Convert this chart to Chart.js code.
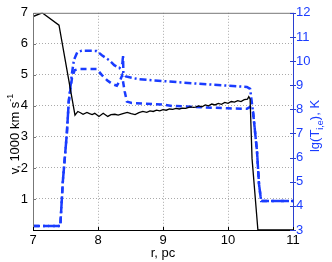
<!DOCTYPE html>
<html>
<head>
<meta charset="utf-8">
<script src="https://cdn.jsdelivr.net/npm/chart.js@4"></script>
<style>
  html, body { margin: 0; padding: 0; background: #fff; }
  #wrap { width: 332px; height: 262px; }
</style>
</head>
<body>
<div id="wrap"><canvas id="chart" width="332" height="262"></canvas></div>
<script>
// velocity (left axis), r in pc
const rVel = [7.0, 7.14, 7.4, 7.646, 7.69, 7.73, 7.77, 7.83, 7.87, 7.91, 7.95, 8.015, 8.08, 8.15, 8.2, 8.26, 8.31, 8.37, 8.45, 8.51, 8.57, 8.63, 8.69, 8.75, 8.8, 8.85, 8.9, 8.95, 9.0, 9.05, 9.1, 9.15, 9.2, 9.25, 9.3, 9.35, 9.42, 9.47, 9.5, 9.55, 9.6, 9.65, 9.7, 9.75, 9.8, 9.85, 9.9, 9.95, 10.0, 10.05, 10.1, 10.15, 10.2, 10.25, 10.3, 10.32, 10.34, 10.37, 10.46, 11.0];
const vel = [6.88, 7.0, 6.6, 3.7, 3.82, 3.78, 3.73, 3.79, 3.75, 3.72, 3.76, 3.66, 3.76, 3.66, 3.72, 3.73, 3.7, 3.74, 3.79, 3.75, 3.72, 3.78, 3.82, 3.79, 3.84, 3.82, 3.86, 3.84, 3.88, 3.86, 3.9, 3.89, 3.92, 3.9, 3.93, 3.92, 3.97, 3.95, 3.96, 4.0, 3.97, 4.03, 4.0, 4.06, 4.03, 4.08, 4.05, 4.11, 4.08, 4.14, 4.12, 4.17, 4.14, 4.2, 4.22, 4.3, 4.22, 2.3, 0.0, 0.0];

// lg T, dash-dot curve (right axis)
const rTdd = [7.0, 7.42, 7.46, 7.52, 7.55, 7.6, 7.63, 7.68, 7.75, 7.98, 8.06, 8.17, 8.25, 8.33, 8.375, 8.385, 8.39, 8.43, 8.6, 9.0, 9.5, 10.0, 10.29, 10.34, 10.385, 10.446, 10.477, 10.51, 11.0];
const lgTdd = [3.17, 3.17, 5.05, 6.97, 8.32, 9.5, 10.05, 10.36, 10.43, 10.42, 10.24, 10.04, 9.83, 9.71, 9.9, 10.24, 9.55, 9.36, 9.26, 9.17, 9.07, 8.98, 8.93, 8.85, 7.9, 6.27, 4.9, 4.2, 4.2];

// lg T, dashed curve (right axis)
const rTd = [7.0, 7.42, 7.46, 7.52, 7.55, 7.6, 7.64, 7.7, 7.98, 8.06, 8.14, 8.22, 8.29, 8.34, 8.37, 8.41, 8.445, 8.52, 8.98, 9.14, 9.5, 10.0, 10.29, 10.34, 10.385, 10.446, 10.477, 10.51, 11.0];
const lgTd = [3.17, 3.17, 5.05, 6.97, 8.32, 9.3, 9.62, 9.67, 9.67, 9.42, 9.2, 9.05, 8.98, 9.2, 9.4, 8.75, 8.32, 8.26, 8.2, 8.14, 8.1, 8.04, 8.02, 8.1, 7.9, 6.27, 4.9, 4.2, 4.2];

const xTicks = [7, 8, 9, 10, 11];
const velTicks = [1, 2, 3, 4, 5, 6, 7];
const lgTTicks = [3, 4, 5, 6, 7, 8, 9, 10, 11, 12];

const FONT = 'Liberation Sans, Arial, sans-serif';
const BLUE = '#1a3cff';
const AXBLUE = '#2a3fd0';

const toPts = (xs, ys) => xs.map((x, i) => ({ x: x, y: ys[i] }));

// frame, inward ticks and axis titles (with sub/superscripts)
const framePlugin = {
    id: 'frame',
    afterDraw(chart) {
        const ctx = chart.ctx;
        const a = chart.chartArea;
        const xs = chart.scales.x, yl = chart.scales.y, yr = chart.scales.y2;
        ctx.save();
        ctx.lineWidth = 1;
        // top and left
        ctx.strokeStyle = '#777';
        ctx.beginPath();
        ctx.moveTo(a.left + 0.5, a.bottom);
        ctx.lineTo(a.left + 0.5, a.top + 0.5);
        ctx.lineTo(a.right, a.top + 0.5);
        ctx.stroke();
        // bottom
        ctx.strokeStyle = '#000';
        ctx.beginPath();
        ctx.moveTo(a.left, a.bottom + 0.5);
        ctx.lineTo(a.right, a.bottom + 0.5);
        ctx.stroke();
        // right
        ctx.strokeStyle = AXBLUE;
        ctx.beginPath();
        ctx.moveTo(a.right + 0.5, a.top);
        ctx.lineTo(a.right + 0.5, a.bottom + 1);
        ctx.stroke();

        // inward ticks
        ctx.strokeStyle = '#777';
        velTicks.forEach(v => {
            const y = Math.round(yl.getPixelForValue(v)) + 0.5;
            ctx.beginPath(); ctx.moveTo(a.left, y); ctx.lineTo(a.left + 3, y); ctx.stroke();
        });
        ctx.strokeStyle = '#000';
        xTicks.forEach(v => {
            const x = Math.round(xs.getPixelForValue(v)) + 0.5;
            ctx.beginPath(); ctx.moveTo(x, a.bottom); ctx.lineTo(x, a.bottom - 3); ctx.stroke();
        });
        ctx.strokeStyle = AXBLUE;
        lgTTicks.forEach(v => {
            const y = Math.round(yr.getPixelForValue(v)) + 0.5;
            ctx.beginPath(); ctx.moveTo(a.right - 3, y); ctx.lineTo(a.right + 3, y); ctx.stroke();
        });

        // x title
        ctx.fillStyle = '#000';
        ctx.font = '13px ' + FONT;
        ctx.textAlign = 'center';
        ctx.textBaseline = 'alphabetic';
        ctx.fillText('r, pc', (a.left + a.right) / 2, 257);

        // rotated titles built from pieces
        const drawRot = (cx, cy, parts, color) => {
            ctx.save();
            ctx.translate(cx, cy);
            ctx.rotate(-Math.PI / 2);
            ctx.fillStyle = color;
            ctx.textAlign = 'left';
            let w = 0;
            parts.forEach(p => {
                ctx.font = (p.small ? '9px ' : '13px ') + FONT;
                w += ctx.measureText(p.t).width;
            });
            let x = -w / 2;
            parts.forEach(p => {
                ctx.font = (p.small ? '9px ' : '13px ') + FONT;
                ctx.fillText(p.t, x, 5 + (p.dy || 0));
                x += ctx.measureText(p.t).width;
            });
            ctx.restore();
        };
        drawRot(14, 134, [
            { t: 'v, 1000 km s' },
            { t: '-1', small: true, dy: -6 }
        ], '#000');
        drawRot(314, 126, [
            { t: 'lg(T' },
            { t: 'i,e', small: true, dy: 4 },
            { t: '), K' }
        ], BLUE);
        ctx.restore();
    }
};

const ctx = document.getElementById('chart').getContext('2d');
window.shockChart = new Chart(ctx, {
    type: 'line',
    data: {
        datasets: [
            {
                label: 'v',
                data: toPts(rVel, vel),
                yAxisID: 'y',
                borderColor: '#000',
                borderWidth: 1.3,
                pointRadius: 0,
                tension: 0
            },
            {
                label: 'lg T dash-dot',
                data: toPts(rTdd, lgTdd),
                yAxisID: 'y2',
                borderColor: BLUE,
                borderWidth: 2.5,
                borderDash: [7, 3, 2, 3],
                pointRadius: 0,
                tension: 0
            },
            {
                label: 'lg T dashed',
                data: toPts(rTd, lgTd),
                yAxisID: 'y2',
                borderColor: BLUE,
                borderWidth: 2.5,
                borderDash: [6, 4],
                pointRadius: 0,
                tension: 0
            }
        ]
    },
    options: {
        responsive: false,
        animation: false,
        clip: true,
        layout: { padding: { top: 10, left: 0, right: 0, bottom: 0 } },
        plugins: {
            legend: { display: false },
            tooltip: { enabled: false }
        },
        scales: {
            x: {
                type: 'linear',
                min: 7,
                max: 11,
                afterFit: (s) => { s.height = 32; },
                afterBuildTicks: (s) => { s.ticks = xTicks.map(v => ({ value: v })); },
                ticks: {
                    color: '#000',
                    font: { family: FONT, size: 13 },
                    padding: 3,
                    maxRotation: 0
                },
                border: { display: false, dash: [1, 2] },
                grid: {
                    color: (c) => (c.tick && (c.tick.value === 7 || c.tick.value === 11)) ? 'rgba(0,0,0,0)' : '#aaaaaa',
                    lineWidth: 1,
                    drawTicks: false
                }
            },
            y: {
                position: 'left',
                min: 0,
                max: 7,
                afterFit: (s) => { s.width = 33; },
                afterBuildTicks: (s) => { s.ticks = velTicks.map(v => ({ value: v })); },
                ticks: {
                    color: '#000',
                    font: { family: FONT, size: 13 },
                    padding: 5
                },
                border: { display: false, dash: [1, 2] },
                grid: {
                    color: (c) => (c.tick && c.tick.value === 7) ? 'rgba(0,0,0,0)' : '#aaaaaa',
                    lineWidth: 1,
                    drawTicks: false
                }
            },
            y2: {
                position: 'right',
                min: 3,
                max: 12,
                afterFit: (s) => { s.width = 39; },
                afterBuildTicks: (s) => { s.ticks = lgTTicks.map(v => ({ value: v })); },
                ticks: {
                    color: BLUE,
                    font: { family: FONT, size: 13 },
                    padding: 3
                },
                border: { display: false },
                grid: { drawOnChartArea: false, drawTicks: false }
            }
        }
    },
    plugins: [framePlugin]
});
</script>
</body>
</html>
